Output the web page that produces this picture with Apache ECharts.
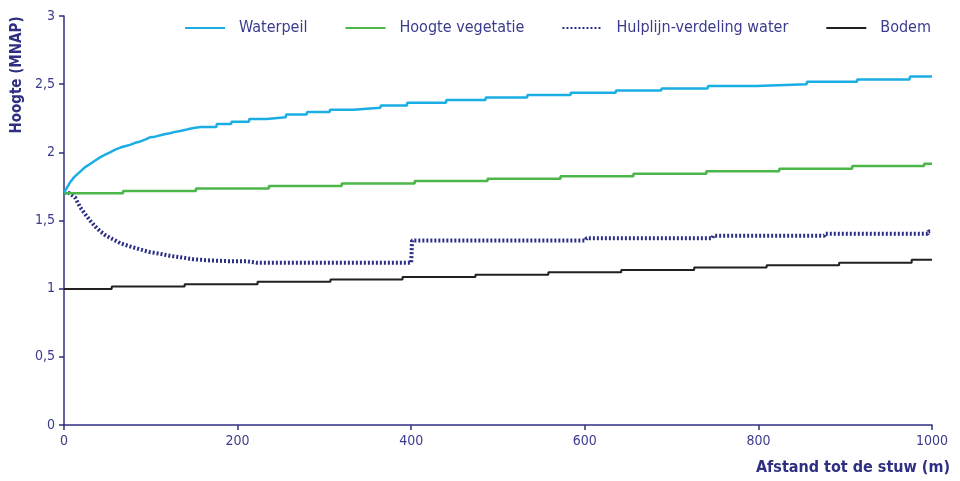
<!DOCTYPE html>
<html><head><meta charset="utf-8">
<script src="https://cdn.jsdelivr.net/npm/echarts@6/dist/echarts.min.js"></script>
<style>html,body{margin:0;padding:0;background:#fff}#c{width:960px;height:481px}</style>
</head><body><div id="c"></div>
<script>
var seriesNames = ['Waterpeil', 'Hoogte vegetatie', 'Hulplijn-verdeling water', 'Bodem'];
var xTicks = [0, 200, 400, 600, 800, 1000];
var yTicks = ['0', '0,5', '1', '1,5', '2', '2,5', '3'];

// [afstand (m), hoogte (m NAP)] (corner points of the stair steps included)
var waterpeil = [[0,1.705],[7,1.78],[12,1.82],[18,1.855],[24,1.89],[30,1.915],[36,1.94],[42,1.965],[48,1.985],[53,2.0],[59,2.02],[65,2.035],[70,2.045],[76,2.055],[82,2.07],[88,2.08],[94,2.095],[99,2.11],[105,2.115],[111,2.125],[117,2.135],[122,2.14],[128,2.15],[134,2.157],[140,2.165],[145,2.173],[151,2.18],[158,2.185],
  [175.5,2.185],[176,2.207],[192.5,2.207],[193,2.224],[213,2.224],[213.5,2.244],[233.5,2.244],[234,2.258],[255.5,2.258],[256,2.278],[279.5,2.278],[280,2.295],[306,2.295],[306.5,2.313],[333.5,2.313],[334,2.327],[364.5,2.327],[365,2.344],[395,2.344],[395.5,2.364],[440,2.364],[440.6,2.384],[485.5,2.384],[486,2.403],[533.5,2.403],[534,2.42],[583.5,2.42],[584,2.437],[635.5,2.437],[636,2.454],[688,2.454],[688.6,2.469],[741.5,2.469],[742,2.486],[798,2.486],[798.7,2.50],[855.5,2.50],[856,2.518],[913.5,2.518],[914,2.535],[974,2.535],[974.7,2.557],[1000,2.557]];
var vegetatie = [[0,1.70],[68,1.716],[152,1.735],[236,1.753],[320,1.771],[404,1.789],[488,1.807],[572,1.825],[656,1.843],[740,1.862],[824,1.880],[908,1.899],[991,1.916],[1000,1.916]];
var hulplijn = [[0,1.705],[6,1.70],[12.7,1.67],[18.4,1.60],[24,1.55],[30,1.50],[36,1.456],[41.5,1.422],[47,1.395],[53,1.373],[59,1.354],[64.5,1.334],[76,1.31],[87.6,1.288],[99,1.268],[110.6,1.256],[122,1.241],[133.6,1.231],[149,1.216],[168,1.207],[187,1.202],[210,1.202],[222,1.19],[400,1.19],[401,1.354],[601,1.354],[602,1.37],[747,1.37],[748,1.388],[876,1.388],[877,1.403],[995,1.403],[996,1.42],[1000,1.42]];
var bodem = [[0,0.997],[55,1.015],[139,1.033],[223,1.05],[307,1.067],[390,1.085],[474,1.102],[558,1.12],[642,1.137],[726,1.155],[809.5,1.172],[893,1.19],[976.6,1.212],[1000,1.212]];

var navy = '#2f2f82';
var txt = '#3b3b8e';
var font = 'DejaVu Sans Condensed';

var chart = echarts.init(document.getElementById('c'), null, {renderer: 'canvas'});
chart.setOption({
  animation: false,
  backgroundColor: '#fff',
  grid: {left: 64, right: 28, top: 16, bottom: 56},
  legend: {
    top: 15, right: 24, itemWidth: 40, itemHeight: 12, itemGap: 37,
    itemStyle: {opacity: 0},
    textStyle: {color: txt, fontFamily: font, fontSize: 16, padding: [0, 0, 0, 9]},
    data: seriesNames
  },
  xAxis: {
    type: 'value', min: 0, max: 1000, interval: 200,
    axisLine: {lineStyle: {color: navy, width: 1.5}},
    axisTick: {show: true, length: 5, lineStyle: {color: navy, width: 1.5}},
    axisLabel: {color: txt, fontFamily: font, fontSize: 14, margin: 9,
      formatter: function (v) { return xTicks.indexOf(v) >= 0 ? String(v) : ''; }},
    splitLine: {show: false}
  },
  yAxis: {
    type: 'value', min: 0, max: 3, interval: 0.5,
    axisLine: {show: true, lineStyle: {color: navy, width: 1.5}},
    axisTick: {show: true, length: 5, lineStyle: {color: navy, width: 1.5}},
    axisLabel: {color: txt, fontFamily: font, fontSize: 14, margin: 9,
      formatter: function (v) { return yTicks[Math.round(v * 2)]; }},
    splitLine: {show: false}
  },
  graphic: [
    {type: 'text', x: 17, y: 75, rotation: Math.PI / 2,
      style: {text: 'Hoogte (MNAP)', fill: navy, font: 'bold 15px "' + font + '"', textAlign: 'center', textVerticalAlign: 'middle'}},
    {type: 'text', x: 950, y: 468,
      style: {text: 'Afstand tot de stuw (m)', fill: navy, font: 'bold 16px "' + font + '"', textAlign: 'right', textVerticalAlign: 'middle'}}
  ],
  series: [
    {name: seriesNames[0], type: 'line', symbol: 'none', data: waterpeil,
      lineStyle: {color: '#1aaee5', width: 2.5}, itemStyle: {color: '#1aaee5'}, z: 4},
    {name: seriesNames[1], type: 'line', step: 'end', symbol: 'none', data: vegetatie,
      lineStyle: {color: '#4cb749', width: 2.5}, itemStyle: {color: '#4cb749'}, z: 3},
    {name: seriesNames[2], type: 'line', symbol: 'none', data: hulplijn,
      lineStyle: {color: '#2a2e86', width: 4, type: [2, 2]}, itemStyle: {color: '#2a2e86'}, z: 2},
    {name: seriesNames[3], type: 'line', step: 'end', symbol: 'none', data: bodem,
      lineStyle: {color: '#231f20', width: 2}, itemStyle: {color: '#231f20'}, z: 3}
  ]
});
</script></body></html>
